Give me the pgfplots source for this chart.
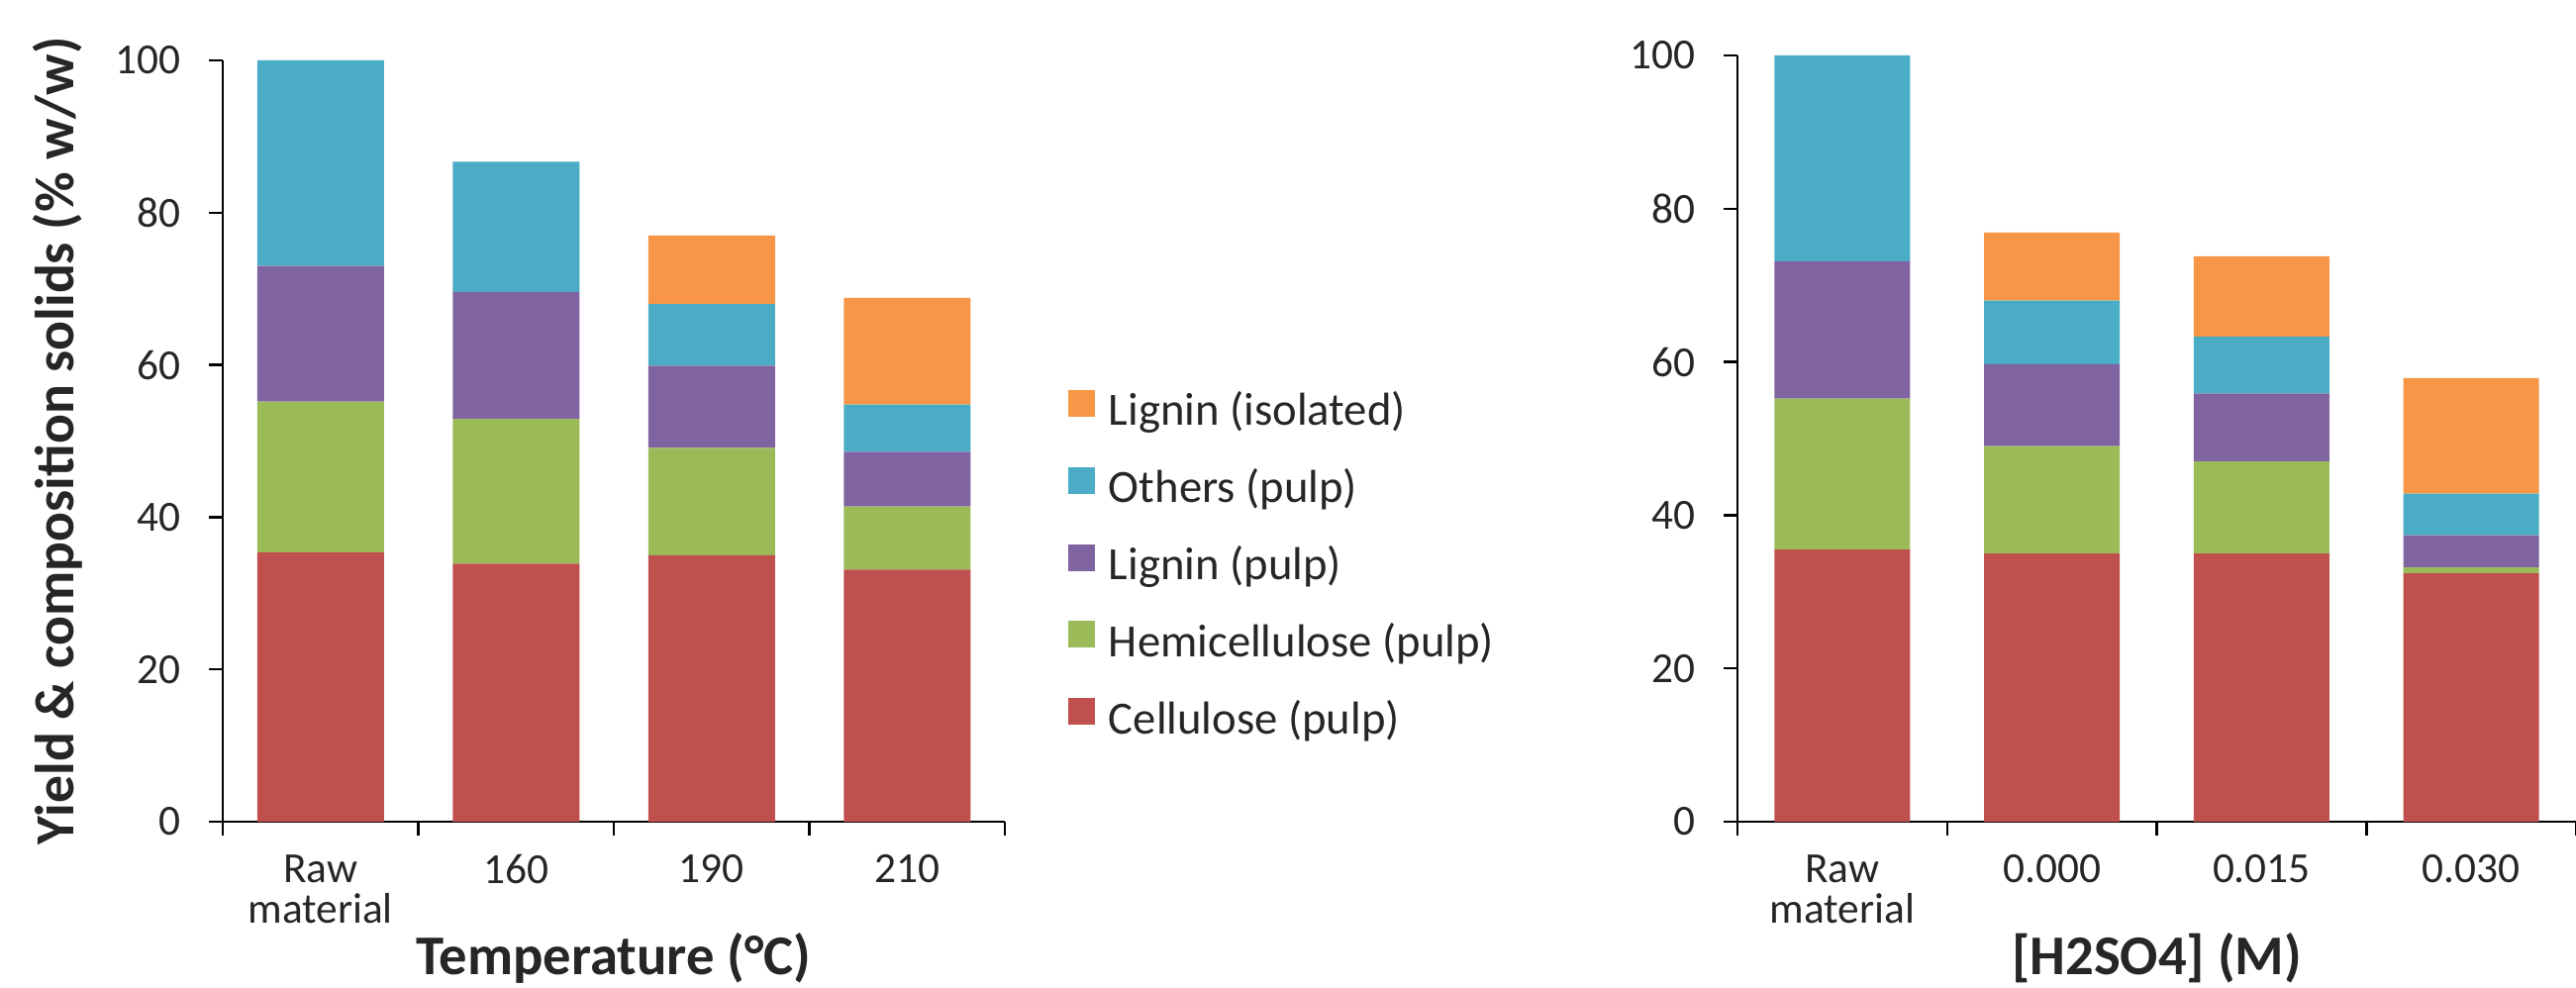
\documentclass[border=0pt]{standalone}
\usepackage{fontspec}
\setmainfont{Carlito}
\usepackage{pgfplots}
\pgfplotsset{compat=1.18}
\definecolor{cRed}{HTML}{C0504D}
\definecolor{cGreen}{HTML}{9BBB59}
\definecolor{cPurple}{HTML}{8064A2}
\definecolor{cBlue}{HTML}{4BACC6}
\definecolor{cOrange}{HTML}{F79646}
\definecolor{txtc}{HTML}{262626}
\pgfplotsset{
  mystyle/.style={
    scale only axis,
    ybar stacked,
    ymin=0, ymax=100, xmin=-0.5, xmax=3.5,
    enlargelimits=false,
    axis x line=bottom, axis y line=left,
    axis line style={-, black, line width=0.75pt},
    ytick={0,20,...,100},
    xtick={-0.5,0.5,1.5,2.5,3.5},
    xticklabels={},
    extra x ticks={0,1,2,3},
    tick align=outside,
    major tick length=4.2pt,
    tick style={black, line width=0.75pt},
    /pgf/number format/assume math mode=true,
    tick label style={font=\fontsize{13}{12.5}\selectfont, text=txtc},
    yticklabel style={xshift=-5.1pt},
    label style={font=\bfseries\fontsize{17}{20}\selectfont, text=txtc},
    legend image code/.code={\fill[##1] (0pt,-0.6pt) rectangle (8.1pt,7.5pt);},
  }
}
\begin{document}
\begin{tikzpicture}
\path[use as bounding box] (0,0) rectangle (780.6pt,299.4pt);
\begin{axis}[mystyle,
  at={(67.5pt,50.4pt)}, anchor=south west,
  width=237pt, height=230.7pt,
  bar width=38.4pt,
  extra x tick labels={{Raw\\material},160,190,210},
  extra x tick style={major tick length=0pt, tick label style={align=center, yshift=-6.5pt}},
  xlabel={Temperature (°C)},
  xlabel style={at={(axis description cs:0.5,-0.2003)}, anchor=base},
  ylabel={Yield \& composition solids (\% w/w)},
  ylabel style={at={(axis description cs:-0.190,0.5)}, anchor=base, font=\bfseries\fontsize{16.7}{20}\selectfont},
  reverse legend,
  legend cell align=left,
  legend style={draw=none, fill=none, inner sep=0pt, outer sep=0pt,
    at={(axis description cs:1.081,0.567)}, anchor=north west,
    row sep=10.1pt, column sep=4.2pt,
    font=\fontsize{14}{16}\selectfont, text=txtc,
    nodes={inner sep=0pt, text height=9pt, text depth=2.5pt}},
]
\addplot[fill=cRed, draw=none] coordinates {(0,35.4) (1,33.9) (2,35.0) (3,33.1)};
\addlegendentry{Cellulose (pulp)}
\addplot[fill=cGreen, draw=none] coordinates {(0,19.8) (1,19.0) (2,14.1) (3,8.3)};
\addlegendentry{Hemicellulose (pulp)}
\addplot[fill=cPurple, draw=none] coordinates {(0,17.8) (1,16.7) (2,10.8) (3,7.2)};
\addlegendentry{Lignin (pulp)}
\addplot[fill=cBlue, draw=none] coordinates {(0,27.0) (1,17.1) (2,8.1) (3,6.2)};
\addlegendentry{Others (pulp)}
\addplot[fill=cOrange, draw=none] coordinates {(0,0) (1,0) (2,9.0) (3,14.0)};
\addlegendentry{Lignin (isolated)}
\end{axis}
\begin{axis}[mystyle,
  at={(526.5pt,50.4pt)}, anchor=south west,
  width=254.1pt, height=232.2pt,
  bar width=41.1pt,
  extra x tick labels={{Raw\\material},0.000,0.015,0.030},
  extra x tick style={major tick length=0pt, tick label style={align=center, yshift=-6.5pt}},
  xlabel={[H2SO4] (M)},
  xlabel style={at={(axis description cs:0.5,-0.1990)}, anchor=base},
]
\addplot[fill=cRed, draw=none] coordinates {(0,35.5) (1,35.0) (2,35.0) (3,32.4)};
\addplot[fill=cGreen, draw=none] coordinates {(0,19.7) (1,14.0) (2,12.0) (3,0.8)};
\addplot[fill=cPurple, draw=none] coordinates {(0,17.9) (1,10.7) (2,8.9) (3,4.2)};
\addplot[fill=cBlue, draw=none] coordinates {(0,26.9) (1,8.3) (2,7.4) (3,5.4)};
\addplot[fill=cOrange, draw=none] coordinates {(0,0) (1,8.9) (2,10.5) (3,15.1)};
\end{axis}
\end{tikzpicture}
\end{document}
